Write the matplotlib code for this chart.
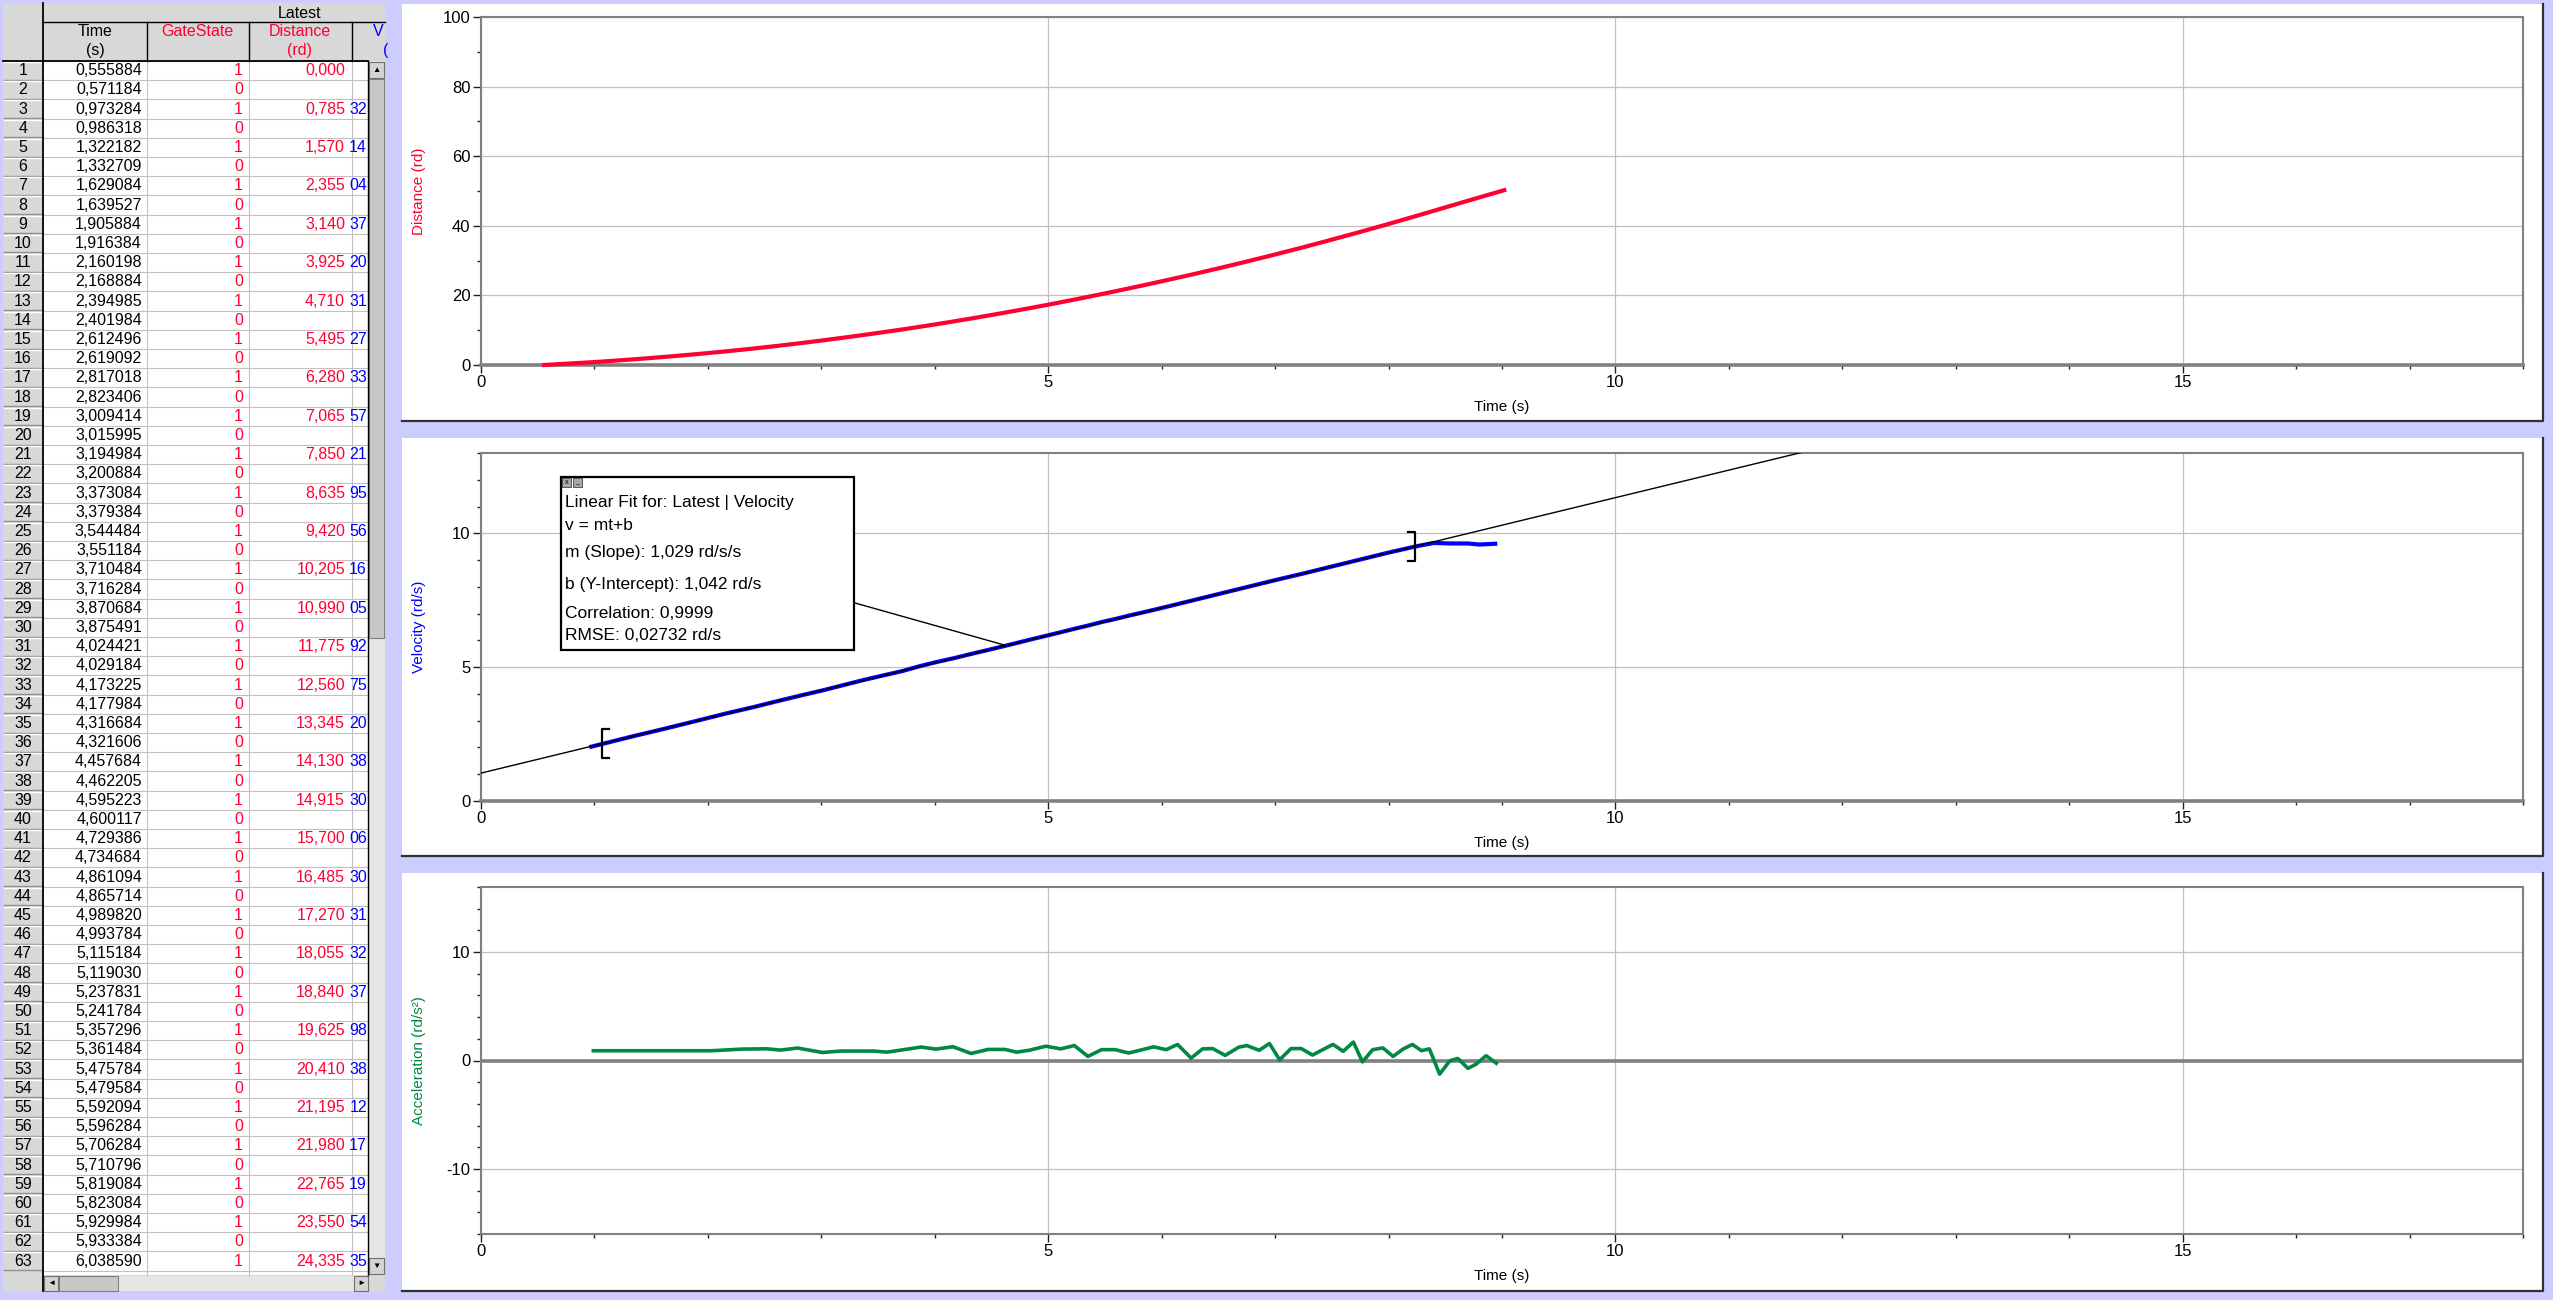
import matplotlib
matplotlib.use('Agg')
import matplotlib.pyplot as plt
from matplotlib.patches import Rectangle
from matplotlib.ticker import MultipleLocator

plt.rcParams['font.family'] = ['Liberation Sans', 'DejaVu Sans']
plt.rcParams['axes.unicode_minus'] = False

W, H = 2553, 1300

# table "Latest" : Time (s), GateState, Distance (rd), last digits of Velocity
time_s = [0.555884, 0.571184, 0.973284, 0.986318, 1.322182, 1.332709, 1.629084, 1.639527,
          1.905884, 1.916384, 2.160198, 2.168884, 2.394985, 2.401984, 2.612496, 2.619092,
          2.817018, 2.823406, 3.009414, 3.015995, 3.194984, 3.200884, 3.373084, 3.379384,
          3.544484, 3.551184, 3.710484, 3.716284, 3.870684, 3.875491, 4.024421, 4.029184,
          4.173225, 4.177984, 4.316684, 4.321606, 4.457684, 4.462205, 4.595223, 4.600117,
          4.729386, 4.734684, 4.861094, 4.865714, 4.989820, 4.993784, 5.115184, 5.119030,
          5.237831, 5.241784, 5.357296, 5.361484, 5.475784, 5.479584, 5.592094, 5.596284,
          5.706284, 5.710796, 5.819084, 5.823084, 5.929984, 5.933384, 6.038590]
gate_state = [1, 0, 1, 0, 1, 0, 1, 0, 1, 0, 1, 0, 1, 0, 1, 0, 1, 0, 1, 0, 1, 0, 1, 0, 1, 0, 1, 0,
              1, 0, 1, 0, 1, 0, 1, 0, 1, 0, 1, 0, 1, 0, 1, 0, 1, 0, 1, 0, 1, 0, 1, 0, 1, 0, 1, 0,
              1, 0, 1, 0, 1, 0, 1]
distance_rd = [0.000, 0.785, 1.570, 2.355, 3.140, 3.925, 4.710, 5.495, 6.280, 7.065, 7.850,
               8.635, 9.420, 10.205, 10.990, 11.775, 12.560, 13.345, 14.130, 14.915, 15.700,
               16.485, 17.270, 18.055, 18.840, 19.625, 20.410, 21.195, 21.980, 22.765, 23.550,
               24.335]
velocity_tail = ['32', '14', '04', '37', '20', '31', '27', '33', '57', '21', '95', '56', '16',
                 '05', '92', '75', '20', '38', '30', '06', '30', '31', '32', '37', '98', '38',
                 '12', '17', '19', '54', '35']

# distance after the visible rows
dist_time_more = [6.25, 6.5, 6.75, 7.0, 7.25, 7.5, 7.75, 8.0, 8.25, 8.5, 8.75, 9.02]
dist_more = [25.87, 27.77, 29.73, 31.76, 33.85, 36.02, 38.24, 40.53, 42.88, 45.28, 47.68, 50.24]

vel_time_more = [6.25, 6.5, 6.75, 7.0, 7.25, 7.5, 7.75, 8.0, 8.25, 8.40, 8.55, 8.70, 8.80, 8.94]
vel = [2.03, 2.40, 2.71, 3.00, 3.27, 3.50, 3.73, 3.94, 4.13, 4.33, 4.52, 4.69, 4.85, 5.04,
       5.20, 5.34, 5.49, 5.63, 5.77, 5.91, 6.05, 6.18, 6.31, 6.44, 6.56, 6.69, 6.80, 6.92,
       7.03, 7.14, 7.25,
       7.47, 7.73, 7.99, 8.25, 8.50, 8.76, 9.02, 9.28, 9.52, 9.64, 9.62, 9.62, 9.58, 9.61]

# acceleration (rd/s^2)
acc_time = [0.99, 2.03, 2.30, 2.52, 2.64, 2.79, 3.01, 3.17, 3.46, 3.58, 3.88, 4.01, 4.16, 4.32,
            4.47, 4.62, 4.72, 4.83, 4.98, 5.11, 5.23, 5.35, 5.47, 5.59, 5.71, 5.83, 5.93, 6.04,
            6.14, 6.26, 6.36, 6.45, 6.56, 6.68, 6.75, 6.86, 6.95, 7.04, 7.14, 7.23, 7.33, 7.42,
            7.51, 7.60, 7.69, 7.77, 7.86, 7.95, 8.04, 8.13, 8.21, 8.29, 8.36, 8.45, 8.54, 8.61,
            8.70, 8.77, 8.86, 8.95]
acc = [0.90, 0.90, 1.05, 1.08, 0.96, 1.15, 0.74, 0.87, 0.87, 0.77, 1.24, 1.05, 1.27, 0.65,
       1.02, 1.02, 0.77, 0.94, 1.32, 1.07, 1.38, 0.38, 1.00, 1.00, 0.69, 1.00, 1.26, 1.00,
       1.48, 0.22, 1.07, 1.10, 0.47, 1.23, 1.38, 0.94, 1.57, 0.06, 1.10, 1.10, 0.50, 1.00,
       1.48, 0.85, 1.70, -0.13, 1.00, 1.16, 0.38, 1.07, 1.48, 0.91, 1.07, -1.26, -0.03, 0.19,
       -0.72, -0.35, 0.44, -0.25]

# linear fit
fit_m, fit_b = 1.029, 1.042
fit_range = (1.07, 8.23)
fit_lines = ['Linear Fit for: Latest | Velocity', 'v = mt+b', 'm (Slope): 1,029 rd/s/s',
             'b (Y-Intercept): 1,042 rd/s', 'Correlation: 0,9999', 'RMSE: 0,02732 rd/s']

BG = '#CCCCFF'
RED = '#FF0033'
BLUE = '#0000FF'
GREEN = '#008844'
GRID = '#C0C0C0'
AXC = '#808080'


def comma(v, nd):
    return f'{v:.{nd}f}'.replace('.', ',')


fig = plt.figure(figsize=(W / 100, H / 100), dpi=100, facecolor=BG)

# background layer: table + white panels, in pixel coords (y down)
bg = fig.add_axes([0, 0, 1, 1], zorder=0)
bg.set_xlim(0, W)
bg.set_ylim(H, 0)
bg.axis('off')

panels = [(4, 421), (438, 856), (873, 1291)]
for top, bot in panels:
    bg.add_patch(Rectangle((402, top), 2543 - 402, bot - top, fc='white', ec='none'))
    bg.plot([402, 2543, 2543], [bot, bot, top], color='#303030', lw=1.6)

# ---- table ----
row_h = 19.2
body_top, body_bot = 61, 1275
bg.add_patch(Rectangle((3, 3), 382, 1288, fc='#D8D8D8', ec='none'))
bg.add_patch(Rectangle((43, body_top), 325, body_bot - body_top, fc='white', ec='none'))
for i in range(len(time_s) + 1):
    y = body_top + i * row_h
    bg.plot([43, 368], [y, y], color=GRID, lw=0.8)
    if i < len(time_s):
        bg.plot([4, 42], [y + 1, y + 1], color='white', lw=1.0)
        bg.plot([4, 42], [y + row_h - 0.5, y + row_h - 0.5], color='#909090', lw=1.0)
for x in (147, 249, 352):
    bg.plot([x, x], [body_top, body_bot], color=GRID, lw=0.8)
    bg.plot([x, x], [22, 61], color='black', lw=1.0)
bg.plot([43, 385], [22, 22], color='black', lw=1.0)
bg.plot([3, 368], [61, 61], color='black', lw=1.3)
bg.plot([43, 43], [3, 1291], color='black', lw=1.3)
bg.plot([368, 368], [61, body_bot], color='black', lw=1.0)

clip_v = Rectangle((353, body_top), 15, body_bot - body_top, transform=bg.transData)
clip_h = Rectangle((353, 22), 32, 39, transform=bg.transData)

tkw = dict(fontsize=11.5, va='center')
bg.text(300, 13, 'Latest', ha='center', **tkw)
bg.text(95, 32, 'Time', ha='center', **tkw)
bg.text(95, 51, '(s)', ha='center', **tkw)
bg.text(197, 32, 'GateState', ha='center', color=RED, **tkw)
bg.text(300, 32, 'Distance', ha='center', color=RED, **tkw)
bg.text(300, 51, '(rd)', ha='center', color=RED, **tkw)
t = bg.text(378, 32, 'V', ha='center', color=BLUE, **tkw)
t.set_clip_path(clip_h)
t = bg.text(386, 51, '(', ha='center', color=BLUE, **tkw)
t.set_clip_path(clip_h)

for i, ts in enumerate(time_s):
    yc = body_top + (i + 0.5) * row_h
    bg.text(23, yc, str(i + 1), ha='center', **tkw)
    bg.text(142, yc, comma(ts, 6), ha='right', **tkw)
    bg.text(243, yc, str(gate_state[i]), ha='right', color=RED, **tkw)
    if i % 2 == 0:
        bg.text(345, yc, comma(distance_rd[i // 2], 3), ha='right', color=RED, **tkw)
        if i > 0:
            t = bg.text(367, yc, velocity_tail[i // 2 - 1], ha='right', color=BLUE, **tkw)
            t.set_clip_path(clip_v)

# scrollbars
bg.add_patch(Rectangle((369, body_top), 16, body_bot - body_top, fc='#E6E6E6', ec='none'))
for y0, y1, g in [(62, 78, '\u25B2'), (1258, 1274, '\u25BC')]:
    bg.add_patch(Rectangle((369, y0), 15, y1 - y0, fc='#D4D4D4', ec='#707070', lw=0.8))
    bg.text(376.5, (y0 + y1) / 2, g, ha='center', va='center', fontsize=6)
bg.add_patch(Rectangle((369, 79), 15, 559, fc='#C8C8C8', ec='#808080', lw=0.8))
bg.add_patch(Rectangle((44, 1276), 324, 15, fc='#E6E6E6', ec='none'))
for x0, x1, g in [(44, 58, '\u25C4'), (354, 368, '\u25BA')]:
    bg.add_patch(Rectangle((x0, 1276), x1 - x0, 15, fc='#D4D4D4', ec='#707070', lw=0.8))
    bg.text((x0 + x1) / 2, 1283.5, g, ha='center', va='center', fontsize=6)
bg.add_patch(Rectangle((59, 1276), 59, 15, fc='#C8C8C8', ec='#808080', lw=0.8))


# ---- graphs ----
def graph(top, bot, ymin, ymax, ymaj, ymin_step, ylabel, color):
    ax = fig.add_axes([481 / W, 1 - bot / H, (2523 - 481) / W, (bot - top) / H], zorder=2)
    ax.set_facecolor('white')
    ax.set_xlim(0, 18)
    ax.set_ylim(ymin, ymax)
    ax.xaxis.set_major_locator(MultipleLocator(5))
    ax.xaxis.set_minor_locator(MultipleLocator(1))
    ax.yaxis.set_major_locator(MultipleLocator(ymaj))
    ax.yaxis.set_minor_locator(MultipleLocator(ymin_step))
    ax.grid(which='major', color=GRID, lw=0.9)
    ax.set_axisbelow(True)
    for s in ax.spines.values():
        s.set_color(AXC)
        s.set_linewidth(1.5)
    ax.tick_params(which='major', length=5.5, width=1, color='#202020', labelsize=12, pad=2)
    ax.tick_params(which='minor', length=2.8, width=1, color='#202020')
    ax.set_xlabel('Time (s)', fontsize=11)
    ax.xaxis.set_label_coords(0.5, -42 / (bot - top))
    ax.xaxis.label.set_va('center')
    ax.set_ylabel(ylabel, color=color, fontsize=11)
    ax.yaxis.set_label_coords(-62 / 2042, 0.5)
    ax.yaxis.label.set_va('center')
    return ax


ax_d = graph(17, 365, 0, 100, 20, 10, 'Distance (rd)', RED)
ax_d.spines['bottom'].set_linewidth(2.6)
ax_d.plot(time_s[0::2] + dist_time_more, distance_rd + dist_more, color=RED, lw=3,
          zorder=3, clip_on=False)

ax_v = graph(453, 801, 0, 13, 5, 1, 'Velocity (rd/s)', BLUE)
ax_v.spines['bottom'].set_linewidth(2.6)
ax_v.plot(time_s[2::2] + vel_time_more, vel, color=BLUE, lw=3, zorder=3)
ax_v.plot([0, 18], [fit_b, fit_m * 18 + fit_b], color='black', lw=1.0, zorder=4)
for tb, d in ((fit_range[0], 0.06), (fit_range[1], -0.06)):
    c = fit_m * tb + fit_b
    ax_v.plot([tb + d, tb, tb, tb + d], [c - 0.53, c - 0.53, c + 0.53, c + 0.53],
              color='black', lw=1.6, zorder=5)
ax_v.annotate('', xy=(4.63, fit_m * 4.63 + fit_b), xycoords='data',
              xytext=(855, H - 603), textcoords='figure pixels',
              arrowprops=dict(arrowstyle='-', color='black', lw=1.0, shrinkA=0, shrinkB=0))

ax_a = graph(887, 1234, -16, 16, 10, 2, 'Acceleration (rd/s\u00b2)', GREEN)
ax_a.axhline(0, color=AXC, lw=2.6, zorder=2)
ax_a.plot(acc_time, acc, color=GREEN, lw=2.6, zorder=3)

# ---- fit box overlay ----
ov = fig.add_axes([0, 0, 1, 1], zorder=6)
ov.set_xlim(0, W)
ov.set_ylim(H, 0)
ov.axis('off')
ov.add_patch(Rectangle((561, 477), 293, 173, fc='white', ec='black', lw=1.6))
for x0, g in ((562, 'x'), (573, '_')):
    ov.add_patch(Rectangle((x0, 478), 9, 9, fc='#A8A8A8', ec='#404040', lw=0.6))
    ov.text(x0 + 4.5, 482, g, ha='center', va='center', fontsize=5)
for txt, yc in zip(fit_lines, [503, 526, 553, 585, 613, 636]):
    ov.text(565, yc, txt, ha='left', va='center', fontsize=12.5)

fig.savefig('out.png', dpi=100, facecolor=BG)
